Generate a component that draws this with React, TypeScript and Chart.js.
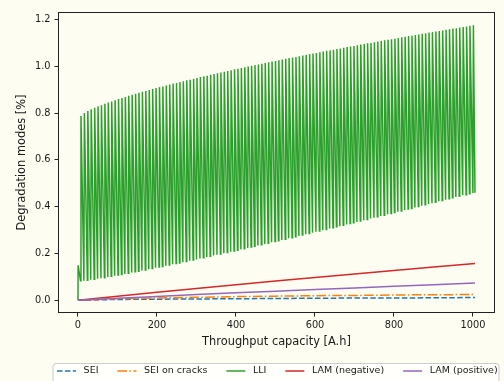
import React, { useEffect, useRef } from "react";
import { Chart, registerables } from "chart.js";
Chart.register(...registerables);

const seriesNames = ["SEI", "SEI on cracks", "LLI", "LAM (negative)", "LAM (positive)"];
const seriesColors = ["#1f77b4", "#ff7f0e", "#2ca02c", "#d62728", "#9467bd"];
const seriesDash: number[][] = [[5.5, 2.4], [9.6, 2.4, 1.5, 2.4], [], [], []];

const xTitle = "Throughput capacity [A.h]";
const yTitle = "Degradation modes [%]";
const xTicks = [0, 200, 400, 600, 800, 1000];
const yTicks = [0, 0.2, 0.4, 0.6, 0.8, 1.0, 1.2];

// slowly varying modes
const smoothThroughput = [0, 100, 200, 300, 400, 500, 600, 700, 800, 900, 1005];
const seiValues = [0, 0.004, 0.005, 0.006, 0.007, 0.008, 0.009, 0.010, 0.010, 0.011, 0.012];
const seiCracksValues = [0, 0.007, 0.010, 0.013, 0.016, 0.018, 0.020, 0.021, 0.023, 0.024, 0.025];
const lamNegValues = [0, 0.018, 0.035, 0.051, 0.067, 0.083, 0.098, 0.113, 0.128, 0.143, 0.157];
const lamPosValues = [0, 0.009, 0.017, 0.025, 0.032, 0.039, 0.046, 0.053, 0.060, 0.067, 0.074];

// LLI: initial spike, then one peak/trough per cycle
const lliStartThroughput = [0, 0.3];
const lliStartValues = [0.0, 0.15];
const cycleThroughput = [
  7.6, 16.2, 24.9, 33.5, 42.2, 50.8, 59.4, 68.1, 76.7, 85.3, 94.0, 102.6, 111.3, 119.9, 128.5, 137.2,
  145.8, 154.4, 163.1, 171.7, 180.4, 189.0, 197.6, 206.3, 214.9, 223.6, 232.2, 240.8, 249.5, 258.1,
  266.7, 275.4, 284.0, 292.7, 301.3, 309.9, 318.6, 327.2, 335.8, 344.5, 353.1, 361.8, 370.4, 379.0,
  387.7, 396.3, 405.0, 413.6, 422.2, 430.9, 439.5, 448.1, 456.8, 465.4, 474.1, 482.7, 491.3, 500.0,
  508.6, 517.2, 525.9, 534.5, 543.2, 551.8, 560.4, 569.1, 577.7, 586.4, 595.0, 603.6, 612.3, 620.9,
  629.5, 638.2, 646.8, 655.5, 664.1, 672.7, 681.4, 690.0, 698.6, 707.3, 715.9, 724.6, 733.2, 741.8,
  750.5, 759.1, 767.7, 776.4, 785.0, 793.7, 802.3, 810.9, 819.6, 828.2, 836.9, 845.5, 854.1, 862.8,
  871.4, 880.0, 888.7, 897.3, 906.0, 914.6, 923.2, 931.9, 940.5, 949.2, 957.8, 966.4, 975.1, 983.7,
  992.3, 1001.0,
];
const cyclePeak = [
  0.788, 0.800, 0.809, 0.816, 0.823, 0.829, 0.834, 0.840, 0.845, 0.850, 0.855, 0.860, 0.865, 0.869,
  0.874, 0.878, 0.883, 0.887, 0.891, 0.895, 0.899, 0.903, 0.907, 0.911, 0.914, 0.918, 0.922, 0.926,
  0.929, 0.933, 0.936, 0.940, 0.943, 0.947, 0.950, 0.954, 0.957, 0.960, 0.964, 0.967, 0.970, 0.973,
  0.977, 0.980, 0.983, 0.987, 0.990, 0.993, 0.996, 0.999, 1.002, 1.005, 1.008, 1.011, 1.014, 1.017,
  1.020, 1.023, 1.026, 1.029, 1.032, 1.035, 1.038, 1.040, 1.043, 1.046, 1.049, 1.052, 1.055, 1.057,
  1.060, 1.063, 1.066, 1.068, 1.071, 1.074, 1.076, 1.079, 1.082, 1.085, 1.087, 1.090, 1.093, 1.095,
  1.098, 1.100, 1.103, 1.106, 1.108, 1.111, 1.113, 1.116, 1.118, 1.121, 1.124, 1.126, 1.129, 1.131,
  1.134, 1.136, 1.139, 1.141, 1.144, 1.146, 1.149, 1.151, 1.153, 1.156, 1.158, 1.161, 1.163, 1.166,
  1.168, 1.170, 1.173, 1.175,
];
const cycleTrough = [
  0.084, 0.084, 0.086, 0.088, 0.090, 0.092, 0.095, 0.097, 0.100, 0.103, 0.105, 0.108, 0.111, 0.113,
  0.116, 0.119, 0.122, 0.124, 0.127, 0.130, 0.133, 0.136, 0.139, 0.142, 0.145, 0.148, 0.151, 0.154,
  0.157, 0.160, 0.163, 0.166, 0.169, 0.172, 0.175, 0.179, 0.182, 0.185, 0.188, 0.192, 0.195, 0.198,
  0.201, 0.205, 0.208, 0.211, 0.214, 0.218, 0.221, 0.224, 0.228, 0.231, 0.234, 0.238, 0.241, 0.244,
  0.248, 0.251, 0.255, 0.258, 0.261, 0.265, 0.268, 0.272, 0.275, 0.279, 0.282, 0.286, 0.289, 0.293,
  0.296, 0.300, 0.303, 0.307, 0.310, 0.314, 0.317, 0.321, 0.324, 0.328, 0.332, 0.335, 0.339, 0.342,
  0.346, 0.350, 0.353, 0.357, 0.360, 0.364, 0.368, 0.371, 0.375, 0.379, 0.382, 0.386, 0.390, 0.393,
  0.397, 0.401, 0.404, 0.408, 0.412, 0.415, 0.419, 0.423, 0.427, 0.430, 0.434, 0.438, 0.442, 0.445,
  0.449, 0.451, 0.455, 0.459,
];
const lliEndThroughput = 1005;
const lliEndValue = 0.46;

const BG = "rgb(253,253,241)";
const TEXT = "#1a1a1a";
const FONT = "DejaVu Sans";

function smoothPoints(vals: number[]) {
  return smoothThroughput.map((x, i) => ({ x, y: vals[i] }));
}

function lliPoints() {
  const pts: { x: number; y: number }[] = [];
  lliStartThroughput.forEach((x, i) => pts.push({ x, y: lliStartValues[i] }));
  cycleThroughput.forEach((x, i) => {
    pts.push({ x: x - 1.2, y: cycleTrough[i] });
    pts.push({ x, y: cyclePeak[i] });
  });
  pts.push({ x: lliEndThroughput, y: lliEndValue });
  return pts;
}

const decor = {
  id: "decor",
  beforeDraw(chart: any) {
    const ctx = chart.ctx;
    ctx.save();
    ctx.fillStyle = BG;
    ctx.fillRect(0, 0, chart.width, chart.height);
    ctx.restore();
  },
  afterDraw(chart: any) {
    const ctx = chart.ctx as CanvasRenderingContext2D;
    const a = chart.chartArea;
    ctx.save();
    // frame
    ctx.strokeStyle = "#222";
    ctx.lineWidth = 1;
    ctx.setLineDash([]);
    ctx.strokeRect(a.left + 0.5, a.top + 0.5, a.right - a.left - 1, a.bottom - a.top - 1);
    // axis titles
    ctx.fillStyle = TEXT;
    ctx.font = `11.4px "${FONT}"`;
    ctx.textAlign = "center";
    ctx.textBaseline = "middle";
    ctx.fillText(xTitle, (a.left + a.right) / 2, a.bottom + 29);
    ctx.save();
    ctx.translate(a.left - 36.3, (a.top + a.bottom) / 2);
    ctx.rotate(-Math.PI / 2);
    ctx.fillText(yTitle, 0, 0);
    ctx.restore();
    // legend
    const boxL = 53, boxR = 499, boxT = 363.5;
    ctx.beginPath();
    const r = 3;
    ctx.moveTo(boxL + r, boxT);
    ctx.lineTo(boxR - r, boxT);
    ctx.quadraticCurveTo(boxR, boxT, boxR, boxT + r);
    ctx.lineTo(boxR, boxT + 40);
    ctx.lineTo(boxL, boxT + 40);
    ctx.lineTo(boxL, boxT + r);
    ctx.quadraticCurveTo(boxL, boxT, boxL + r, boxT);
    ctx.fillStyle = "rgba(255,255,255,0.8)";
    ctx.fill();
    ctx.strokeStyle = "#cccccc";
    ctx.lineWidth = 1;
    ctx.stroke();
    ctx.font = `9.5px "${FONT}"`;
    ctx.textAlign = "left";
    ctx.textBaseline = "middle";
    const cy = 371;
    let x = 57;
    seriesNames.forEach((name, i) => {
      ctx.beginPath();
      ctx.strokeStyle = seriesColors[i];
      ctx.lineWidth = 1.5;
      ctx.setLineDash(seriesDash[i]);
      ctx.moveTo(x, cy);
      ctx.lineTo(x + 19, cy);
      ctx.stroke();
      ctx.setLineDash([]);
      ctx.fillStyle = TEXT;
      const tx = x + 19 + 7.6;
      ctx.fillText(name, tx, cy);
      x = tx + ctx.measureText(name).width + 19;
    });
    ctx.restore();
  },
};

export default function App() {
  const ref = useRef<HTMLCanvasElement | null>(null);
  useEffect(() => {
    if (!ref.current) return;
    const allData = [
      smoothPoints(seiValues),
      smoothPoints(seiCracksValues),
      lliPoints(),
      smoothPoints(lamNegValues),
      smoothPoints(lamPosValues),
    ];
    const chart = new Chart(ref.current, {
      type: "line",
      data: {
        datasets: allData.map((d, i) => ({
          label: seriesNames[i],
          data: d,
          borderColor: seriesColors[i],
          backgroundColor: seriesColors[i],
          borderWidth: 1.5,
          borderDash: seriesDash[i],
          pointRadius: 0,
          tension: 0,
          fill: false,
          order: 4 - i,
        })),
      },
      options: {
        animation: false,
        responsive: false,
        events: [],
        layout: { padding: { top: 12, right: 9, left: 0, bottom: 0 } },
        plugins: { legend: { display: false }, tooltip: { enabled: false } },
        scales: {
          x: {
            type: "linear",
            min: -50.6,
            max: 1055.7,
            afterBuildTicks: (s: any) => {
              s.ticks = xTicks.map((v) => ({ value: v }));
            },
            afterFit: (s: any) => {
              s.height = 68;
            },
            ticks: {
              autoSkip: false,
              maxRotation: 0,
              padding: 3,
              color: TEXT,
              font: { family: FONT, size: 9.8 },
              callback: (v: any) => String(v),
            },
            grid: { drawOnChartArea: false, drawTicks: true, tickLength: 3.5, tickColor: "#222", tickWidth: 1 },
            border: { display: false },
          },
          y: {
            type: "linear",
            min: -0.054,
            max: 1.232,
            afterBuildTicks: (s: any) => {
              s.ticks = yTicks.map((v) => ({ value: v }));
            },
            afterFit: (s: any) => {
              s.width = 58;
            },
            ticks: {
              autoSkip: false,
              padding: 4,
              color: TEXT,
              font: { family: FONT, size: 9.8 },
              callback: (v: any) => Number(v).toFixed(1),
            },
            grid: { drawOnChartArea: false, drawTicks: true, tickLength: 3.5, tickColor: "#222", tickWidth: 1 },
            border: { display: false },
          },
        },
      },
      plugins: [decor],
    });
    return () => chart.destroy();
  }, []);
  return (
    <div style={{ position: "absolute", left: 0, top: 0, width: 504, height: 381 }}>
      <canvas ref={ref} width={504} height={381} style={{ display: "block", width: 504, height: 381 }} />
    </div>
  );
}
